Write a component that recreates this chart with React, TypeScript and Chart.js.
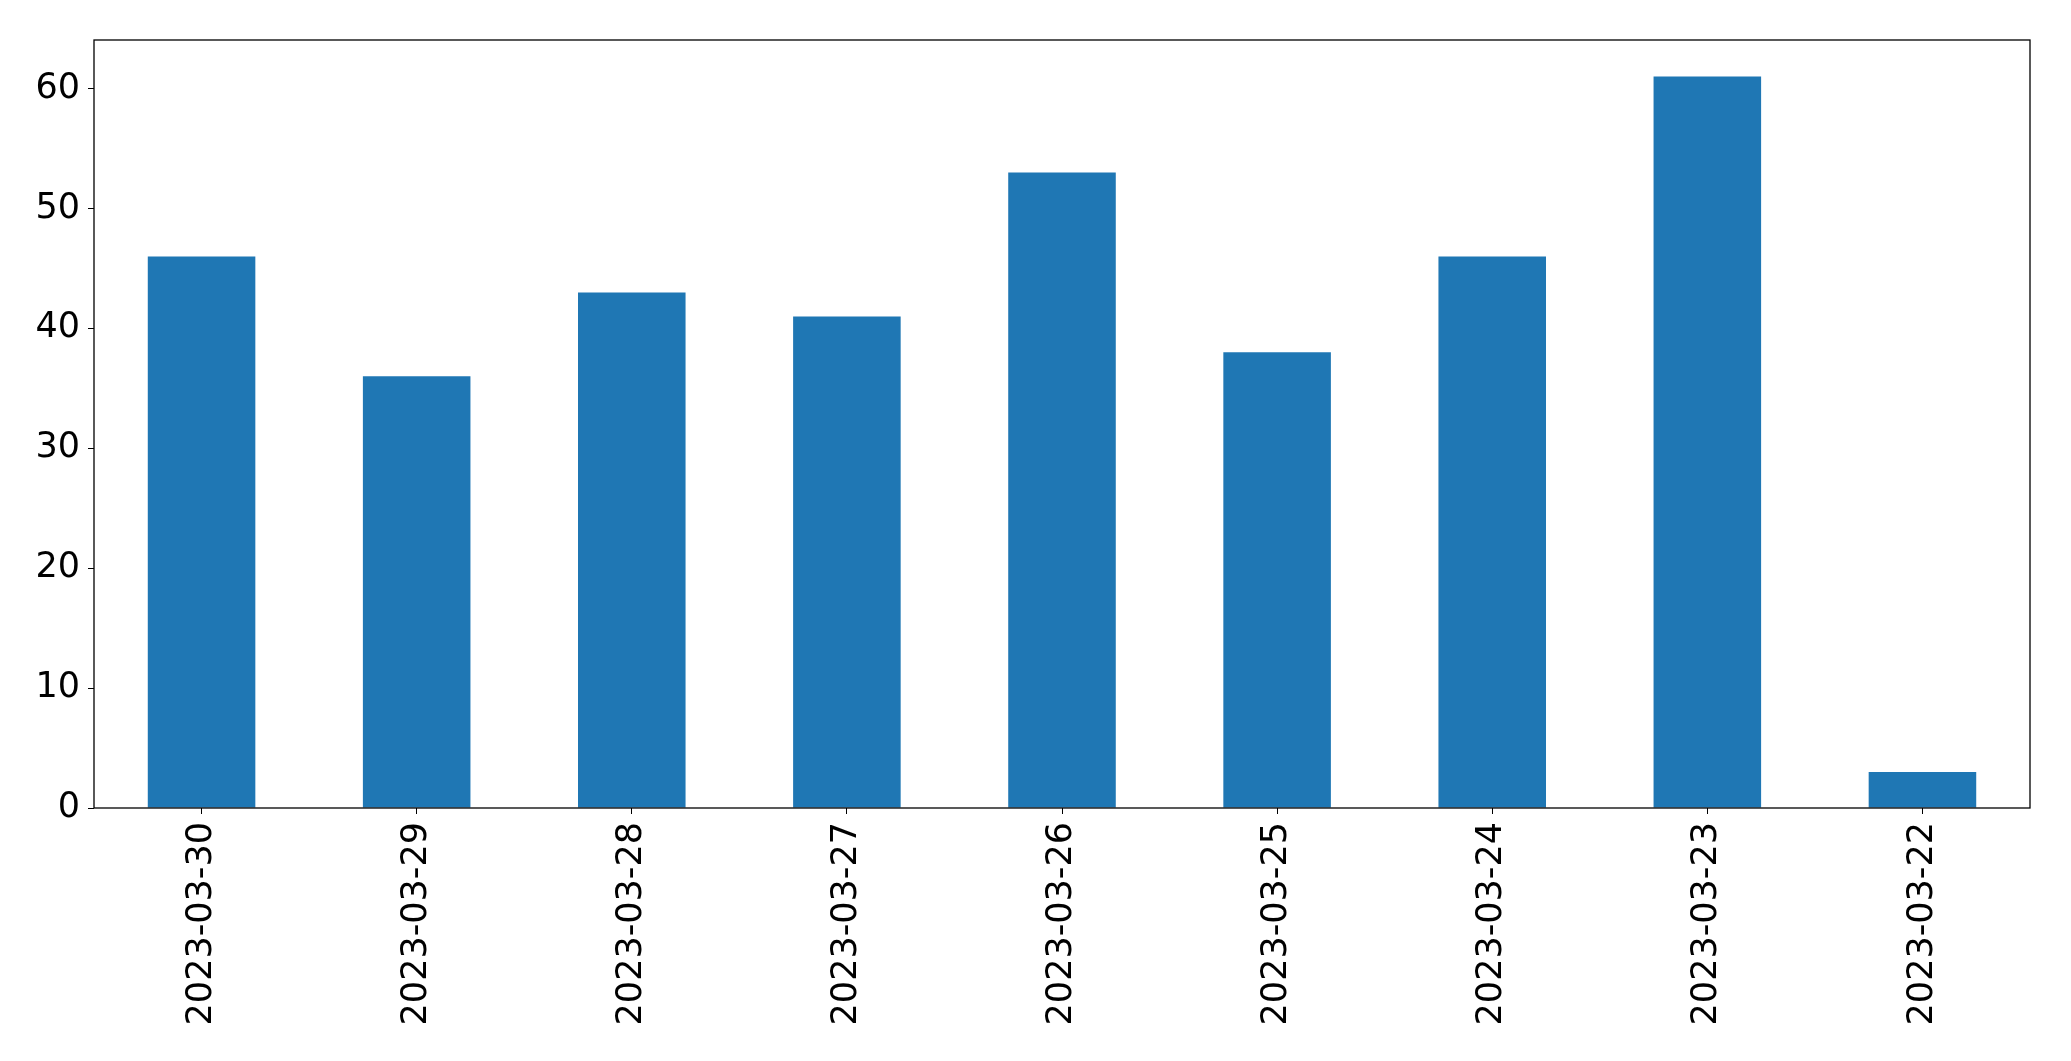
import React, { useEffect, useRef } from "react";
import { Chart, registerables } from "chart.js";

Chart.register(...registerables);

const categories = [
  "2023-03-30",
  "2023-03-29",
  "2023-03-28",
  "2023-03-27",
  "2023-03-26",
  "2023-03-25",
  "2023-03-24",
  "2023-03-23",
  "2023-03-22",
];
const values = [46, 36, 43, 41, 53, 38, 46, 61, 3];
const yTicks = [0, 10, 20, 30, 40, 50, 60];
const yMax = 64.05;

const FONT = { family: "'DejaVu Sans', sans-serif", size: 35 };

const framePlugin = {
  id: "frame",
  afterDraw(chart: any) {
    const { ctx, chartArea } = chart;
    ctx.save();
    ctx.strokeStyle = "#000";
    ctx.lineWidth = 1.3;
    ctx.strokeRect(chartArea.left, chartArea.top, chartArea.right - chartArea.left, chartArea.bottom - chartArea.top);
    ctx.restore();
  },
};

export default function App() {
  const ref = useRef<HTMLCanvasElement | null>(null);
  useEffect(() => {
    document.body.style.margin = "0";
    const canvas = ref.current!;
    const chart = new Chart(canvas, {
      type: "bar",
      data: {
        labels: categories,
        datasets: [
          {
            data: values,
            backgroundColor: "#1f77b4",
            borderWidth: 0,
            barPercentage: 0.5,
            categoryPercentage: 1,
          },
        ],
      },
      options: {
        responsive: false,
        animation: false,
        devicePixelRatio: 1,
        layout: { padding: { top: 40, right: 41, left: 0, bottom: 0 } },
        plugins: { legend: { display: false }, tooltip: { enabled: false } },
        scales: {
          x: {
            grid: { drawOnChartArea: false, drawTicks: true, tickLength: 6, tickColor: "#000", offset: false },
            border: { display: false },
            ticks: { color: "#000", font: FONT, maxRotation: 90, minRotation: 90, padding: 8, autoSkip: false },
            afterFit(scale: any) {
              scale.height = 253;
            },
          },
          y: {
            min: 0,
            max: yMax,
            grid: { drawOnChartArea: false, drawTicks: true, tickLength: 6, tickColor: "#000" },
            border: { display: false },
            ticks: { color: "#000", font: FONT, padding: 8, stepSize: 10 },
            afterBuildTicks(scale: any) {
              scale.ticks = yTicks.map((v) => ({ value: v }));
            },
            afterFit(scale: any) {
              scale.width = 94;
            },
          },
        },
      },
      plugins: [framePlugin],
    });
    return () => chart.destroy();
  }, []);
  return <canvas ref={ref} width={2071} height={1061} style={{ display: "block", width: 2071, height: 1061 }} />;
}
